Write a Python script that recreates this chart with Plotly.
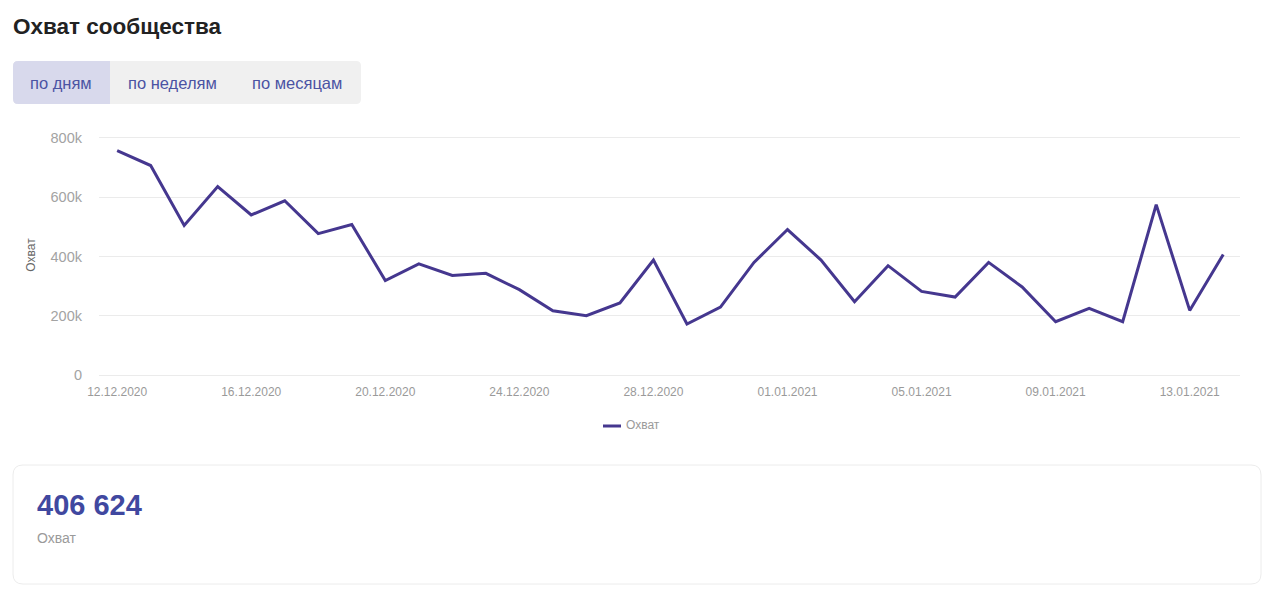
import pandas as pd
import plotly.graph_objects as go

# %% Data
start_date = "2020-12-12"
reach = [757, 707, 505, 636, 540, 588, 477, 508, 319, 375,
         336, 343, 288, 217, 200, 243, 388, 172, 229, 380,
         491, 388, 247, 369, 282, 263, 380, 297, 180, 225,
         180, 575, 218, 406.624]
reach = [v * 1000 for v in reach]
dates = pd.date_range(start_date, periods=len(reach), freq="D")
total_reach = "406 624"
y_ticks = [0, 200000, 400000, 600000, 800000]
y_tick_labels = ["0", "200k", "400k", "600k", "800k"]
buttons = ["по дням", "по неделям", "по месяцам"]
series_name = "Охват"

# %% Layout in pixels (page coords; body margin 8px)
W, H = 1257, 581
OFF = 8
L, R, T, B = 91, 25, 127, 214
PW, PH = W - L - R, H - T - B


def px(x):
    return (x - OFF - L) / PW


def py(y):
    return 1 - (y - OFF - T) / PH


def rounded(x0, y0, x1, y1, r):
    """rounded rect path in paper coords from page pixels"""
    rx, ry = r / PW, r / PH
    a, b, c, d = px(x0), py(y1), px(x1), py(y0)
    return (f"M{a+rx},{b} L{c-rx},{b} Q{c},{b} {c},{b+ry} L{c},{d-ry} Q{c},{d} {c-rx},{d} "
            f"L{a+rx},{d} Q{a},{d} {a},{d-ry} L{a},{b+ry} Q{a},{b} {a+rx},{b} Z")


FONT = "Liberation Sans, Arial, sans-serif"
LINE = "#45378f"
BTN_TEXT = "#4b53a3"
GRID = "#ebebeb"

fig = go.Figure(go.Scatter(
    x=dates, y=reach, mode="lines", name=series_name,
    line=dict(color=LINE, width=3), showlegend=False,
))

shapes = [
    dict(type="path", path=rounded(13, 61, 361, 104, 5), xref="paper", yref="paper",
         fillcolor="#f0f0f0", line=dict(width=0), layer="below"),
    dict(type="path", path=rounded(13, 61, 110, 104, 5), xref="paper", yref="paper",
         fillcolor="#d8d9ec", line=dict(width=0), layer="below"),
    dict(type="rect", xref="paper", yref="paper", x0=px(100), x1=px(110),
         y0=py(104), y1=py(61), fillcolor="#d8d9ec", line=dict(width=0), layer="below"),
    dict(type="path", path=rounded(13, 465, 1261, 584, 10), xref="paper", yref="paper",
         fillcolor="white", line=dict(color="#ececec", width=1), layer="below"),
    # legend sample
    dict(type="line", xref="paper", yref="paper", x0=px(603), x1=px(621),
         y0=py(426), y1=py(426), line=dict(color=LINE, width=3)),
]

annotations = [
    dict(text="<b>Охват сообщества</b>", x=px(11), y=py(26), xanchor="left", yanchor="middle",
         font=dict(size=22.5, color="#222222", family=FONT)),
    dict(text=f"<b>{total_reach}</b>", x=px(35), y=py(505), xanchor="left", yanchor="middle",
         font=dict(size=29, color="#4048a0", family=FONT)),
    dict(text=series_name, x=px(35), y=py(538), xanchor="left", yanchor="middle",
         font=dict(size=14, color="#9a9a9a", family=FONT)),
    dict(text=series_name, x=px(624), y=py(425), xanchor="left", yanchor="middle",
         font=dict(size=12, color="#9a9a9a", family=FONT)),
]
for label, cx in zip(buttons, [61, 172, 297]):
    annotations.append(dict(text=label, x=px(cx), y=py(83), xanchor="center", yanchor="middle",
                            font=dict(size=16.5, color=BTN_TEXT, family=FONT)))
for a in annotations:
    a.update(xref="paper", yref="paper", showarrow=False)

fig.update_layout(
    width=W, height=H,
    margin=dict(l=L, r=R, t=T, b=B, pad=0),
    paper_bgcolor="white", plot_bgcolor="white",
    font=dict(family=FONT),
    shapes=shapes,
    annotations=annotations,
)
fig.update_xaxes(
    range=[dates[0] - pd.Timedelta(hours=13), dates[-1] + pd.Timedelta(hours=12)],
    tickformat="%d.%m.%Y", dtick=4 * 86400000, tick0=start_date,
    tickfont=dict(size=12, color="#9a9a9a"), showgrid=False, showline=False,
    zeroline=False, ticks="", ticklabelstandoff=8,
)
fig.update_yaxes(
    range=[0, 810000], tickvals=y_ticks, ticktext=y_tick_labels,
    tickfont=dict(size=14.5, color="#a3a3a3"), gridcolor=GRID, gridwidth=1,
    zeroline=True, zerolinecolor=GRID, zerolinewidth=1,
    title=dict(text=series_name, font=dict(size=12, color="#666666"), standoff=12),
    ticklabelstandoff=16,
)

fig.write_html("out.html")
